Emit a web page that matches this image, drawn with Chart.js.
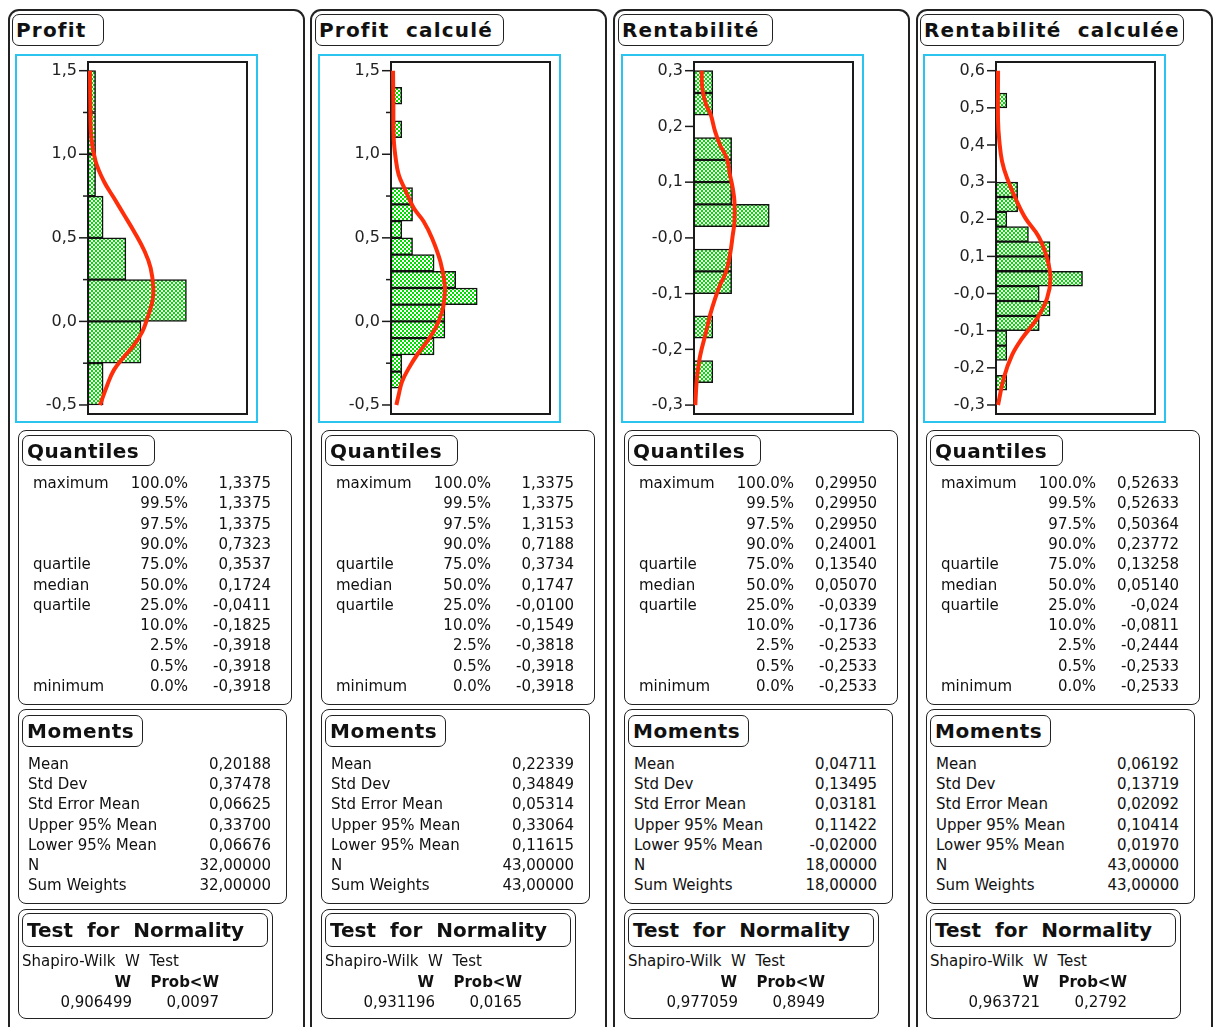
<!DOCTYPE html>
<html><head><meta charset="utf-8">
<script src="https://cdn.jsdelivr.net/npm/chart.js@4"></script>
<style>
html,body{margin:0;padding:0;background:#fff;}
body{width:1213px;height:1027px;overflow:hidden;position:relative;font-family:"DejaVu Sans",sans-serif;color:#111;}
.a{position:absolute;box-sizing:border-box;}
.frame{border:2px solid #222;border-bottom:none;border-radius:11px 11px 0 0;}
.rbox{border:1.5px solid #222;border-radius:8px;}
.tbox{border:1.5px solid #222;border-radius:7px;}
.cyan{border:2px solid #2bc4ee;}
.t{position:absolute;white-space:pre;font-size:15px;line-height:18px;height:18px;}
.b{font-weight:bold;}
canvas{position:absolute;}
</style>
</head><body>
<script>
// ---------- data ----------
const panelTitles = ['Profit', 'Profit  calculé', 'Rentabilité', 'Rentabilité  calculée'];

// histogram bins (bin centres) and counts
const profitBins   = [1.375, 1.125, 0.875, 0.625, 0.375, 0.125, -0.125, -0.375];
const profitCounts = [1, 1, 1, 2, 5, 13, 7, 2];
const profitCalcBins   = [1.45, 1.35, 1.25, 1.15, 1.05, 0.95, 0.85, 0.75, 0.65, 0.55, 0.45, 0.35, 0.25, 0.15, 0.05, -0.05, -0.15, -0.25, -0.35, -0.45];
const profitCalcCounts = [0, 1, 0, 1, 0, 0, 0, 2, 2, 1, 2, 4, 6, 8, 5, 5, 4, 1, 1, 0];
const rentaBins   = [0.28, 0.24, 0.20, 0.16, 0.12, 0.08, 0.04, 0.00, -0.04, -0.08, -0.12, -0.16, -0.20, -0.24, -0.28];
const rentaCounts = [1, 1, 0, 2, 2, 2, 4, 0, 2, 2, 0, 1, 0, 1, 0];
const rentaCalcBins   = [0.56, 0.52, 0.48, 0.44, 0.40, 0.36, 0.32, 0.28, 0.24, 0.20, 0.16, 0.12, 0.08, 0.04, 0.00, -0.04, -0.08, -0.12, -0.16, -0.20, -0.24, -0.28];
const rentaCalcCounts = [0, 1, 0, 0, 0, 0, 0, 2, 2, 1, 3, 5, 5, 8, 4, 5, 4, 1, 1, 0, 1, 0];

// fitted curves: value (vertical) and height in counts (horizontal)
const profitCurveY = [1.5, 1.296, 1.097, 0.957, 0.837, 0.738, 0.638, 0.538, 0.418, 0.318, 0.199, 0.119, 0.019, -0.061, -0.141, -0.211, -0.29, -0.38, -0.5];
const profitCurveX = [0.26, 0.31, 0.44, 1.01, 2.11, 3.43, 4.76, 6.08, 7.49, 8.28, 8.63, 8.5, 7.84, 7.18, 6.08, 4.76, 3.43, 2.55, 1.59];
const profitCalcCurveY = [1.5, 1.296, 1.097, 0.978, 0.878, 0.798, 0.678, 0.598, 0.498, 0.358, 0.219, 0.139, 0.059, -0.041, -0.121, -0.201, -0.281, -0.361, -0.44, -0.5];
const profitCalcCurveX = [0.19, 0.22, 0.25, 0.43, 0.71, 1.24, 2.11, 3.03, 3.81, 4.58, 4.99, 4.95, 4.74, 4.12, 3.34, 2.41, 1.64, 1.02, 0.71, 0.5];
const rentaCurveY = [0.3, 0.269, 0.239, 0.221, 0.191, 0.167, 0.143, 0.113, 0.089, 0.065, 0.029, 0.005, -0.031, -0.061, -0.085, -0.109, -0.139, -0.169, -0.199, -0.222, -0.258, -0.3];
const rentaCurveX = [0.41, 0.44, 0.64, 0.89, 1.12, 1.38, 1.74, 1.91, 2.06, 2.15, 2.15, 2.06, 1.91, 1.7, 1.38, 1.12, 0.85, 0.64, 0.41, 0.27, 0.14, 0.07];
const rentaCalcCurveY = [0.6, 0.463, 0.41, 0.356, 0.311, 0.257, 0.203, 0.153, 0.095, 0.041, -0.013, -0.067, -0.121, -0.166, -0.228, -0.3];
const rentaCalcCurveX = [0.19, 0.19, 0.31, 0.56, 1.02, 1.79, 2.72, 3.95, 4.72, 5.03, 4.72, 3.8, 2.41, 1.48, 0.71, 0.19];

// axis ticks
const profitTicks = [-0.5, -0.25, 0, 0.25, 0.5, 0.75, 1, 1.25, 1.5];
const profitTickLabels = ['-0,5', '', '0,0', '', '0,5', '', '1,0', '', '1,5'];
const rentaTicks = [-0.3, -0.2, -0.1, 0, 0.1, 0.2, 0.3];
const rentaTickLabels = ['-0,3', '-0,2', '-0,1', '-0,0', '0,1', '0,2', '0,3'];
const rentaCalcTicks = [-0.3, -0.2, -0.1, 0, 0.1, 0.2, 0.3, 0.4, 0.5, 0.6];
const rentaCalcTickLabels = ['-0,3', '-0,2', '-0,1', '-0,0', '0,1', '0,2', '0,3', '0,4', '0,5', '0,6'];

// quantiles
const quantileLabels = ['maximum', '', '', '', 'quartile', 'median', 'quartile', '', '', '', 'minimum'];
const quantilePercents = ['100.0%', '99.5%', '97.5%', '90.0%', '75.0%', '50.0%', '25.0%', '10.0%', '2.5%', '0.5%', '0.0%'];
const profitQuantiles = ['1,3375', '1,3375', '1,3375', '0,7323', '0,3537', '0,1724', '-0,0411', '-0,1825', '-0,3918', '-0,3918', '-0,3918'];
const profitCalcQuantiles = ['1,3375', '1,3375', '1,3153', '0,7188', '0,3734', '0,1747', '-0,0100', '-0,1549', '-0,3818', '-0,3918', '-0,3918'];
const rentaQuantiles = ['0,29950', '0,29950', '0,29950', '0,24001', '0,13540', '0,05070', '-0,0339', '-0,1736', '-0,2533', '-0,2533', '-0,2533'];
const rentaCalcQuantiles = ['0,52633', '0,52633', '0,50364', '0,23772', '0,13258', '0,05140', '-0,024', '-0,0811', '-0,2444', '-0,2533', '-0,2533'];

// moments
const momentLabels = ['Mean', 'Std Dev', 'Std Error Mean', 'Upper 95% Mean', 'Lower 95% Mean', 'N', 'Sum Weights'];
const profitMoments = ['0,20188', '0,37478', '0,06625', '0,33700', '0,06676', '32,00000', '32,00000'];
const profitCalcMoments = ['0,22339', '0,34849', '0,05314', '0,33064', '0,11615', '43,00000', '43,00000'];
const rentaMoments = ['0,04711', '0,13495', '0,03181', '0,11422', '-0,02000', '18,00000', '18,00000'];
const rentaCalcMoments = ['0,06192', '0,13719', '0,02092', '0,10414', '0,01970', '43,00000', '43,00000'];

// normality (Shapiro-Wilk)
const shapiroW = ['0,906499', '0,931196', '0,977059', '0,963721'];
const shapiroP = ['0,0097', '0,0165', '0,8949', '0,2792'];

// ---------- layout ----------
const panels = [
  {bins: profitBins, counts: profitCounts, cy: profitCurveY, cx: profitCurveX, ticks: profitTicks, labels: profitTickLabels, yMin: -0.554, yMax: 1.552, xMax: 21, q: profitQuantiles, m: profitMoments},
  {bins: profitCalcBins, counts: profitCalcCounts, cy: profitCalcCurveY, cx: profitCalcCurveX, ticks: profitTicks, labels: profitTickLabels, yMin: -0.554, yMax: 1.552, xMax: 14.75, q: profitCalcQuantiles, m: profitCalcMoments},
  {bins: rentaBins, counts: rentaCounts, cy: rentaCurveY, cx: rentaCurveX, ticks: rentaTicks, labels: rentaTickLabels, yMin: -0.316, yMax: 0.3156, xMax: 8.45, q: rentaQuantiles, m: rentaMoments},
  {bins: rentaCalcBins, counts: rentaCalcCounts, cy: rentaCalcCurveY, cx: rentaCalcCurveX, ticks: rentaCalcTicks, labels: rentaCalcTickLabels, yMin: -0.3243, yMax: 0.6234, xMax: 14.7, q: rentaCalcQuantiles, m: rentaCalcMoments}
];
const colOff = [0, 303, 606, 908];
const frameLeft = [8, 310, 613, 916];
const titleW = [92, 189, 155, 264];

function box(x, y, w, h, cls) {
  const d = document.createElement('div');
  d.className = 'a ' + cls;
  d.style.left = x + 'px'; d.style.top = y + 'px';
  d.style.width = w + 'px'; d.style.height = h + 'px';
  document.body.appendChild(d);
  return d;
}
function text(x, cy, s, opt) {
  opt = opt || {};
  const d = document.createElement('div');
  d.className = 't' + (opt.bold ? ' b' : '');
  const size = opt.size || 15;
  d.style.fontSize = size + 'px';
  d.style.lineHeight = Math.round(size * 1.2) + 'px';
  d.style.height = Math.round(size * 1.2) + 'px';
  d.style.top = (cy - size * 0.6) + 'px';
  if (opt.ls) d.style.letterSpacing = opt.ls + 'px';
  if (opt.right) { d.style.left = (x - 300) + 'px'; d.style.width = '300px'; d.style.textAlign = 'right'; }
  else d.style.left = x + 'px';
  d.textContent = s;
  document.body.appendChild(d);
}

// checkered green pattern
const pc = document.createElement('canvas');
pc.width = 4; pc.height = 4;
const pctx = pc.getContext('2d');
pctx.fillStyle = '#ffffff'; pctx.fillRect(0, 0, 4, 4);
pctx.fillStyle = '#00dd00'; pctx.fillRect(0, 0, 2, 2); pctx.fillRect(2, 2, 2, 2);
const greenPattern = pctx.createPattern(pc, 'repeat');

const framePlugin = {
  id: 'jmpFrame',
  beforeDatasetsDraw(chart) {
    const a = chart.chartArea, ctx = chart.ctx;
    ctx.save();
    ctx.strokeStyle = '#1a1a1a'; ctx.lineWidth = 2;
    ctx.strokeRect(a.left, a.top, a.right - a.left, a.bottom - a.top);
    ctx.restore();
  },
  afterDraw(chart) {
    const a = chart.chartArea, ctx = chart.ctx, ys = chart.scales.y;
    const lbl = chart.options.plugins.jmpFrame.labels, tv = chart.options.plugins.jmpFrame.ticks;
    ctx.save();
    ctx.strokeStyle = '#1a1a1a'; ctx.lineWidth = 1.5;
    tv.forEach((v, i) => {
      const y = ys.getPixelForValue(v);
      const len = lbl[i] ? 9 : 5;
      ctx.beginPath(); ctx.moveTo(a.left - len, y); ctx.lineTo(a.left, y); ctx.stroke();
    });
    ctx.restore();
  }
};

panels.forEach((p, k) => {
  const o = colOff[k];
  box(frameLeft[k], 9, 297, 1040, 'frame');
  box(12 + o, 14, titleW[k], 32, 'tbox');
  text(16 + o, 30, panelTitles[k], {bold: true, size: 20, ls: 1.2});
  box(15 + o, 54, 243, 369, 'cyan');

  const cv = document.createElement('canvas');
  cv.width = 239; cv.height = 396;
  cv.style.left = (17 + o) + 'px'; cv.style.top = '40px';
  cv.style.width = '239px'; cv.style.height = '396px';
  document.body.appendChild(cv);
  const tv = p.ticks, tl = p.labels;
  new Chart(cv, {
    type: 'bar',
    data: {datasets: [
      {type: 'line', indexAxis: 'y', data: p.cy.map((v, i) => ({x: p.cx[i], y: v})),
       borderColor: '#ff2e0a', borderWidth: 4, pointRadius: 0, tension: 0.4, fill: false, order: 0, clip: 4},
      {type: 'bar', data: p.bins.map((b, i) => ({x: p.counts[i], y: b})),
       backgroundColor: greenPattern, borderColor: '#111', borderWidth: 1.5, borderSkipped: false,
       barPercentage: 1, categoryPercentage: 1, order: 1}
    ]},
    options: {
      indexAxis: 'y', responsive: false, animation: false, devicePixelRatio: 1,
      layout: {padding: {top: 22, bottom: 22, left: 0, right: 9}},
      plugins: {legend: {display: false}, tooltip: {enabled: false}, jmpFrame: {ticks: tv, labels: tl}},
      scales: {
        x: {type: 'linear', display: false, min: 0, max: p.xMax},
        y: {type: 'linear', min: p.yMin, max: p.yMax, offset: false,
            grid: {display: false, drawTicks: false}, border: {display: false},
            afterBuildTicks: s => { s.ticks = tv.map(v => ({value: v})); },
            afterFit: s => { s.width = 71; },
            ticks: {padding: 11, autoSkip: false, color: '#222',
                    font: {family: 'DejaVu Sans', size: 16, lineHeight: 1},
                    callback: (v) => { const i = tv.findIndex(t => Math.abs(t - v) < 1e-9); return i >= 0 ? tl[i] : ''; }}}
      }
    },
    plugins: [framePlugin]
  });

  // Quantiles
  box(18 + o, 430, 274, 275, 'rbox');
  box(22 + o, 435, 133, 31, 'tbox');
  text(27 + o, 451, 'Quantiles', {bold: true, size: 20, ls: 0.5});
  quantilePercents.forEach((pc, i) => {
    const y = 483 + 20.3 * i;
    if (quantileLabels[i]) text(33 + o, y, quantileLabels[i]);
    text(188 + o, y, pc, {right: true});
    text(271 + o, y, p.q[i], {right: true});
  });

  // Moments
  box(18 + o, 709, 269, 195, 'rbox');
  box(22 + o, 715, 121, 32, 'tbox');
  text(27 + o, 731, 'Moments', {bold: true, size: 20, ls: 0.5});
  momentLabels.forEach((lab, i) => {
    const y = 764 + 20.17 * i;
    text(28 + o, y, lab);
    text(271 + o, y, p.m[i], {right: true});
  });

  // Test for Normality
  box(18 + o, 909, 255, 110, 'rbox');
  box(22 + o, 913, 246, 34, 'tbox');
  text(27 + o, 930, 'Test  for  Normality', {bold: true, size: 20});
  text(22 + o, 961, 'Shapiro-Wilk  W  Test');
  text(131 + o, 982, 'W', {bold: true, right: true});
  text(219 + o, 982, 'Prob<W', {bold: true, right: true});
  text(132 + o, 1002, shapiroW[k], {right: true});
  text(219 + o, 1002, shapiroP[k], {right: true});
});
</script>
</body></html>
